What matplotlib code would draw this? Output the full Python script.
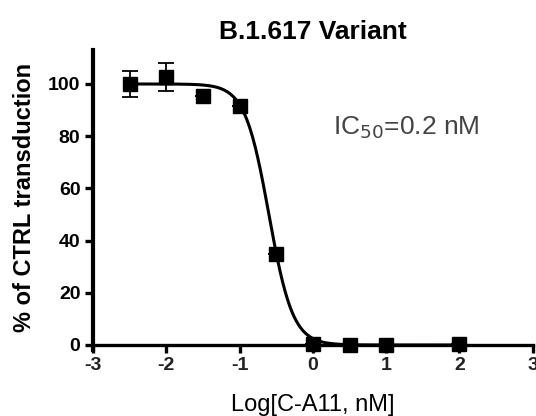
import numpy as np
import matplotlib
matplotlib.use("Agg")
import matplotlib.pyplot as plt

plt.rcParams['font.family'] = ['Liberation Sans', 'DejaVu Sans']

# measured points
log_conc = [-2.5, -2.0, -1.5, -1.0, -0.5, 0.0, 0.5, 1.0, 2.0]
pct_ctrl = [100.0, 102.6, 95.5, 91.7, 34.7, 0.5, 0.0, 0.0, 0.3]
pct_err = [5.0, 5.3, 0.0, 0.0, 0.0, 0.0, 0.0, 0.0, 0.0]

# 4PL fit parameters
top, bottom = 100.0, 0.0
log_ic50 = -0.6
hill = 2.66

fig = plt.figure(figsize=(5.36, 4.16), dpi=100)
ax = fig.add_axes([0.1735, 0.1707, 0.8205, 0.709])

xfit = np.linspace(-2.5, 2.0, 400)
yfit = bottom + (top - bottom) / (1 + 10 ** ((xfit - log_ic50) * hill))
ax.plot(xfit, yfit, color="black", linewidth=2.2, clip_on=False, zorder=2)

ax.errorbar(log_conc, pct_ctrl, yerr=pct_err, fmt="s", color="black",
            markersize=9.5, elinewidth=1.3, capsize=6, capthick=1.3,
            clip_on=False, zorder=3)

ax.set_xlim(-3, 3)
ax.set_ylim(0, 113)
ax.set_xticks([-3, -2, -1, 0, 1, 2, 3])
ax.set_xticklabels(["-3", "-2", "-1", "0", "1", "2", "3"])
ax.set_yticks([0, 20, 40, 60, 80, 100])

for s in ["top", "right"]:
    ax.spines[s].set_visible(False)
ax.spines["left"].set_linewidth(3.0)
ax.spines["bottom"].set_linewidth(2.4)
ax.spines["left"].set_bounds(-2, 113)
ax.tick_params(direction="out", length=6, width=2.4, labelsize=14, pad=3)
for lbl in ax.get_yticklabels():
    lbl.set_fontweight("bold")
for lbl in ax.get_xticklabels():
    lbl.set_fontweight("bold")
    lbl.set_color("#222222")

ax.set_title("B.1.617 Variant", fontsize=19, fontweight="bold", pad=8)
ax.set_ylabel("% of CTRL transduction", fontsize=17, fontweight="bold", labelpad=9)
ax.set_xlabel("Log[C-A11, nM]", fontsize=17, labelpad=14)
ax.text(0.545, 0.715, "IC$_{50}$=0.2 nM", transform=ax.transAxes,
        fontsize=19, color="#444444")

fig.savefig("out.png", dpi=100)
